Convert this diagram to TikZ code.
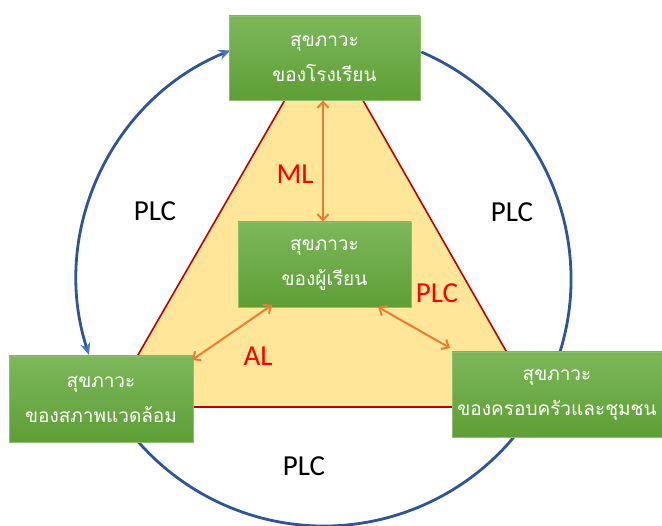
\documentclass[tikz,border=0pt]{standalone}
\usepackage{fontspec}
\setmainfont{Carlito}
\newfontfamily\thaifont[Script=Thai]{Loma}
\usetikzlibrary{arrows.meta,calc}
\definecolor{gtop}{HTML}{7DB75B}
\definecolor{gbot}{HTML}{5E9E35}
\definecolor{gedge}{HTML}{8CC06C}
\definecolor{tri}{HTML}{FFE699}
\definecolor{trired}{HTML}{C00000}
\definecolor{cblue}{HTML}{2F5597}
\definecolor{ablue}{HTML}{4472C4}
\definecolor{orng}{HTML}{ED7D31}
\tikzset{
  gbox/.style={draw=gedge, line width=0.8pt, top color=gtop, bottom color=gbot,
    text=white, align=center, font=\thaifont\fontsize{19}{35}\selectfont, inner sep=0pt},
  lbl/.style={font=\fontsize{29}{30}\selectfont},
  rlbl/.style={lbl, text=red},
  oarr/.style={draw=orng, line width=2pt, {Straight Barb[length=6pt,width=11pt]}-{Straight Barb[length=6pt,width=11pt]}},
  circ/.style={draw=cblue, line width=2.8pt},
}
\begin{document}
\begin{tikzpicture}[x=1pt,y=-1pt]
\fill[white] (0,0) rectangle (662,526);
\useasboundingbox (0,0) rectangle (662,526);
\coordinate (c) at (324,279);
% triangle
\coordinate (t1) at (324,32);
\coordinate (t2) at (108,407);
\coordinate (t3) at (538,407);
\filldraw[fill=tri, draw=trired, line width=1.6pt, line join=miter] (t1) -- (t2) -- (t3) -- cycle;
% circle arc (right side, behind boxes)
\draw[circ] ($(c)+(-66.8:247)$) arc[start angle=-66.8, end angle=139.5, radius=247];
% left arrowed arc
\draw[circ, {Stealth[length=12pt,width=10pt,color=ablue]}-{Stealth[length=12pt,width=10pt,color=ablue]}]
  ($(c)+(-197.9:247)$) arc[start angle=-197.9, end angle=-112.2, radius=247];
% boxes
\node[gbox, minimum width=191pt, minimum height=84pt] (top) at (324.5,58) {สุขภาวะ\\ของโรงเรียน};
\node[gbox, minimum width=184pt, minimum height=86pt] (left) at (101,399) {สุขภาวะ\\ของสภาพแวดล้อม};
\node[gbox, minimum width=210pt, minimum height=85pt] (right) at (557,394.5) {สุขภาวะ\\ของครอบครัวและชุมชน};
\node[gbox, minimum width=173pt, minimum height=85pt] (mid) at (324.5,264.5) {สุขภาวะ\\ของผู้เรียน};
% orange arrows
\coordinate (mlA) at (top.south -| 323,0);
\coordinate (mlB) at (mid.north -| 323,0);
\draw[oarr] (mlA) -- (mlB);
\coordinate (alA) at (192,360);
\coordinate (alB) at (272,305);
\draw[oarr] (alA) -- (alB);
\coordinate (plA) at (378,307);
\coordinate (plB) at (450,348);
\draw[oarr] (plA) -- (plB);
% labels
\node[rlbl] (ml) at (295,174) {ML};
\node[rlbl] (al) at (258,356) {AL};
\node[rlbl] (plr) at (437,293) {PLC};
\node[lbl] (pl1) at (155,211) {PLC};
\node[lbl] (pl2) at (512,212) {PLC};
\node[lbl] (pl3) at (304,466) {PLC};
\end{tikzpicture}
\end{document}
